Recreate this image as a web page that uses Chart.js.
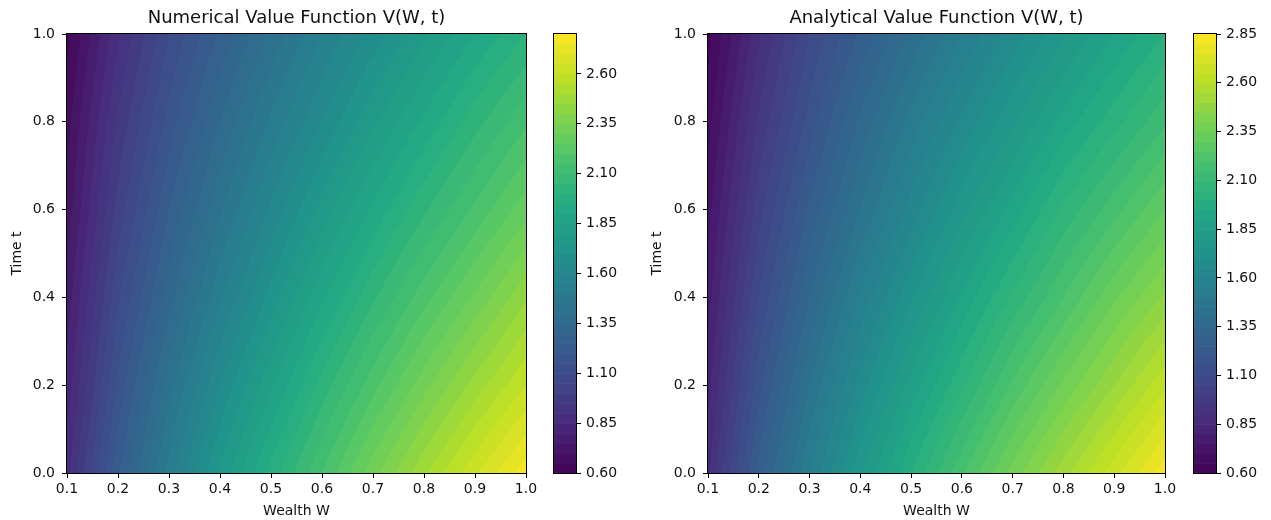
<!DOCTYPE html>
<html>
<head>
<meta charset="utf-8">
<script src="https://cdn.jsdelivr.net/npm/chart.js@4.4.1/dist/chart.umd.min.js"></script>
<style>
  body { margin: 0; background: #fff; }
  #wrap { position: relative; width: 1271px; height: 520px; }
  canvas { position: absolute; top: 0; }
</style>
</head>
<body>
<div id="wrap">
  <canvas id="numMain" width="545" height="520" style="left:0px"></canvas>
  <canvas id="numBar" width="95" height="520" style="left:545px"></canvas>
  <canvas id="anaMain" width="545" height="520" style="left:640px"></canvas>
  <canvas id="anaBar" width="86" height="520" style="left:1185px"></canvas>
</div>
<script>
// grid nodes
const wealth = [0.1, 0.2, 0.3, 0.4, 0.5, 0.6, 0.7, 0.8, 0.9, 1.0];
const times = [0.0, 0.2, 0.4, 0.6, 0.8, 1.0];

// V(W, t): one row per time node, one column per wealth node
const numericalV = [
    [0.88, 1.24, 1.52, 1.76, 1.97, 2.15, 2.33, 2.49, 2.64, 2.78],
    [0.82, 1.16, 1.43, 1.65, 1.84, 2.02, 2.18, 2.33, 2.47, 2.60],
    [0.77, 1.09, 1.33, 1.54, 1.72, 1.89, 2.04, 2.18, 2.31, 2.44],
    [0.72, 1.02, 1.25, 1.44, 1.61, 1.77, 1.91, 2.04, 2.16, 2.28],
    [0.68, 0.96, 1.17, 1.35, 1.51, 1.65, 1.79, 1.91, 2.03, 2.14],
    [0.63, 0.89, 1.10, 1.26, 1.41, 1.55, 1.67, 1.79, 1.90, 2.00]
];
const analyticalV = [
    [0.89, 1.27, 1.55, 1.79, 2.00, 2.19, 2.37, 2.53, 2.68, 2.83],
    [0.83, 1.18, 1.45, 1.67, 1.87, 2.04, 2.21, 2.36, 2.50, 2.64],
    [0.78, 1.10, 1.35, 1.56, 1.74, 1.91, 2.06, 2.20, 2.34, 2.46],
    [0.73, 1.03, 1.26, 1.45, 1.62, 1.78, 1.92, 2.06, 2.18, 2.30],
    [0.68, 0.96, 1.17, 1.36, 1.52, 1.66, 1.79, 1.92, 2.03, 2.14],
    [0.63, 0.89, 1.10, 1.26, 1.41, 1.55, 1.67, 1.79, 1.90, 2.00]
];

const wealthTicks = [0.1, 0.2, 0.3, 0.4, 0.5, 0.6, 0.7, 0.8, 0.9, 1.0];
const timeTicks = [0.0, 0.2, 0.4, 0.6, 0.8, 1.0];
const numericalBarTicks = [0.60, 0.85, 1.10, 1.35, 1.60, 1.85, 2.10, 2.35, 2.60];
const analyticalBarTicks = [0.60, 0.85, 1.10, 1.35, 1.60, 1.85, 2.10, 2.35, 2.60, 2.85];

// lowest / highest contour level, filled bands every levelStep
const numericalLevels = [0.60, 2.80];
const analyticalLevels = [0.60, 2.85];
const levelStep = 0.05;

const FONT = "'DejaVu Sans', sans-serif";
const INK = '#111';

// viridis colormap stops
const viridisStops = [
    [0.000, '#440154'], [0.100, '#482475'], [0.125, '#472d7b'], [0.200, '#414487'],
    [0.250, '#3b528b'], [0.300, '#355f8d'], [0.375, '#2c728e'], [0.400, '#2a788e'],
    [0.500, '#21918c'], [0.600, '#22a884'], [0.625, '#28ae80'], [0.700, '#44bf70'],
    [0.750, '#5ec962'], [0.800, '#7ad151'], [0.875, '#addc30'], [0.900, '#bddf26'],
    [1.000, '#fde725']
].map(([p, hex]) => [p, [1, 3, 5].map(i => parseInt(hex.substr(i, 2), 16))]);

function viridis(p) {
    p = Math.min(1, Math.max(0, p));
    for (let i = 1; i < viridisStops.length; i++) {
        const [p1, c1] = viridisStops[i];
        if (p <= p1) {
            const [p0, c0] = viridisStops[i - 1];
            const f = (p - p0) / (p1 - p0);
            return c0.map((c, k) => Math.round(c + (c1[k] - c) * f));
        }
    }
    return viridisStops[viridisStops.length - 1][1];
}

// one colour per filled band, taken at the band's middle level
function bandColors(levels) {
    const n = Math.round((levels[1] - levels[0]) / levelStep);
    const out = [];
    for (let i = 0; i < n; i++) {
        out.push(viridis((i + 0.5) / n));
    }
    return out;
}

function locate(nodes, v) {
    let i = 0;
    while (i < nodes.length - 2 && v > nodes[i + 1]) i++;
    const f = (v - nodes[i]) / (nodes[i + 1] - nodes[i]);
    return [i, Math.min(1, Math.max(0, f))];
}

function sampleGrid(grid, w, t) {
    const [i, fx] = locate(wealth, w);
    const [j, fy] = locate(times, t);
    const a = grid[j][i] + (grid[j][i + 1] - grid[j][i]) * fx;
    const b = grid[j + 1][i] + (grid[j + 1][i + 1] - grid[j + 1][i]) * fx;
    return a + (b - a) * fy;
}

// paints the filled contour bands of the grid inside the plot area
const contourFill = {
    id: 'contourFill',
    beforeDatasetsDraw(chart, args, opts) {
        const area = chart.chartArea;
        const xs = chart.scales.x, ys = chart.scales.y;
        const left = Math.round(area.left), top = Math.round(area.top);
        const w = Math.round(area.right) - left, h = Math.round(area.bottom) - top;
        const colors = bandColors(opts.levels);
        const img = chart.ctx.createImageData(w, h);
        for (let py = 0; py < h; py++) {
            const t = ys.getValueForPixel(top + py + 0.5);
            for (let px = 0; px < w; px++) {
                const wv = xs.getValueForPixel(left + px + 0.5);
                const v = sampleGrid(opts.grid, wv, t);
                let band = Math.floor((v - opts.levels[0]) / levelStep);
                band = Math.min(colors.length - 1, Math.max(0, band));
                const c = colors[band];
                const k = (py * w + px) * 4;
                img.data[k] = c[0]; img.data[k + 1] = c[1]; img.data[k + 2] = c[2]; img.data[k + 3] = 255;
            }
        }
        chart.ctx.putImageData(img, left, top);
    }
};

// colorbar bands along the bar's own y scale
const colorbarFill = {
    id: 'colorbarFill',
    beforeDatasetsDraw(chart, args, opts) {
        const ctx = chart.ctx, area = chart.chartArea, ys = chart.scales.y;
        const colors = bandColors(opts.levels);
        colors.forEach((c, i) => {
            const y0 = ys.getPixelForValue(opts.levels[0] + i * levelStep);
            const y1 = ys.getPixelForValue(opts.levels[0] + (i + 1) * levelStep);
            ctx.fillStyle = `rgb(${c[0]},${c[1]},${c[2]})`;
            ctx.fillRect(area.left, y1, area.right - area.left, y0 - y1 + 0.6);
        });
    }
};

// black frame round the plot area
const frame = {
    id: 'frame',
    afterDraw(chart) {
        const ctx = chart.ctx, a = chart.chartArea;
        ctx.save();
        ctx.strokeStyle = '#000';
        ctx.lineWidth = 1;
        ctx.strokeRect(Math.round(a.left) - 0.5, Math.round(a.top) - 0.5,
                       Math.round(a.right - a.left) + 1, Math.round(a.bottom - a.top) + 1);
        ctx.restore();
    }
};

// title centred over the plot area rather than the whole canvas
const plotTitle = {
    id: 'plotTitle',
    afterDraw(chart, args, opts) {
        const ctx = chart.ctx, a = chart.chartArea;
        ctx.save();
        ctx.fillStyle = INK;
        ctx.font = `18px ${FONT}`;
        ctx.textAlign = 'center';
        ctx.textBaseline = 'middle';
        ctx.fillText(opts.text, (a.left + a.right) / 2, a.top - 15.5);
        ctx.restore();
    }
};

function tickGrid() {
    return { display: true, drawOnChartArea: false, drawTicks: true, tickLength: 5, color: '#000', lineWidth: 1 };
}

function makeMain(id, title, grid, levels, yWidth, padRight) {
    const points = [];
    times.forEach((t, j) => wealth.forEach((w, i) => points.push({ x: w, y: t, v: grid[j][i] })));
    return new Chart(document.getElementById(id), {
        type: 'scatter',
        data: { datasets: [{ data: points, pointRadius: 0, pointHoverRadius: 0 }] },
        plugins: [contourFill, frame, plotTitle],
        options: {
            responsive: false,
            animation: false,
            events: [],
            layout: { padding: { left: 0, right: padRight, top: 34, bottom: 0 } },
            plugins: {
                legend: { display: false },
                tooltip: { enabled: false },
                title: { display: false },
                plotTitle: { text: title },
                contourFill: { grid: grid, levels: levels }
            },
            scales: {
                x: {
                    type: 'linear', min: wealthTicks[0], max: wealthTicks[wealthTicks.length - 1],
                    grid: tickGrid(), border: { display: false },
                    afterBuildTicks: s => { s.ticks = wealthTicks.map(v => ({ value: v })); },
                    afterFit: s => { s.height = 47; },
                    ticks: { color: INK, font: { family: FONT, size: 14 }, padding: 3, maxRotation: 0,
                             callback: v => Number(v).toFixed(1) },
                    title: { display: true, text: 'Wealth W', color: INK, font: { family: FONT, size: 14 },
                             padding: { top: 0, bottom: 0 } }
                },
                y: {
                    type: 'linear', min: timeTicks[0], max: timeTicks[timeTicks.length - 1],
                    grid: tickGrid(), border: { display: false },
                    afterBuildTicks: s => { s.ticks = timeTicks.map(v => ({ value: v })); },
                    afterFit: s => { s.width = yWidth; },
                    ticks: { color: INK, font: { family: FONT, size: 14 }, padding: 7,
                             callback: v => Number(v).toFixed(1) },
                    title: { display: true, text: 'Time t', color: INK, font: { family: FONT, size: 14 },
                             padding: { top: 9, bottom: 0 } }
                }
            }
        }
    });
}

function makeBar(id, levels, barTicks, axisWidth) {
    return new Chart(document.getElementById(id), {
        type: 'scatter',
        data: { datasets: [] },
        plugins: [colorbarFill, frame],
        options: {
            responsive: false,
            animation: false,
            events: [],
            layout: { padding: { left: 9, right: 0, top: 34, bottom: 47 } },
            plugins: {
                legend: { display: false },
                tooltip: { enabled: false },
                colorbarFill: { levels: levels }
            },
            scales: {
                x: { display: false, min: 0, max: 1 },
                y: {
                    type: 'linear', position: 'right', min: levels[0], max: levels[1],
                    grid: tickGrid(), border: { display: false },
                    afterBuildTicks: s => { s.ticks = barTicks.map(v => ({ value: v })); },
                    afterFit: s => { s.width = axisWidth; },
                    ticks: { color: INK, font: { family: FONT, size: 14 }, padding: 5,
                             callback: v => Number(v).toFixed(2) }
                }
            }
        }
    });
}

makeMain('numMain', 'Numerical Value Function V(W, t)', numericalV, numericalLevels, 67, 19);
makeBar('numBar', numericalLevels, numericalBarTicks, 64);
makeMain('anaMain', 'Analytical Value Function V(W, t)', analyticalV, analyticalLevels, 68, 20);
makeBar('anaBar', analyticalLevels, analyticalBarTicks, 55);
</script>
</body>
</html>
